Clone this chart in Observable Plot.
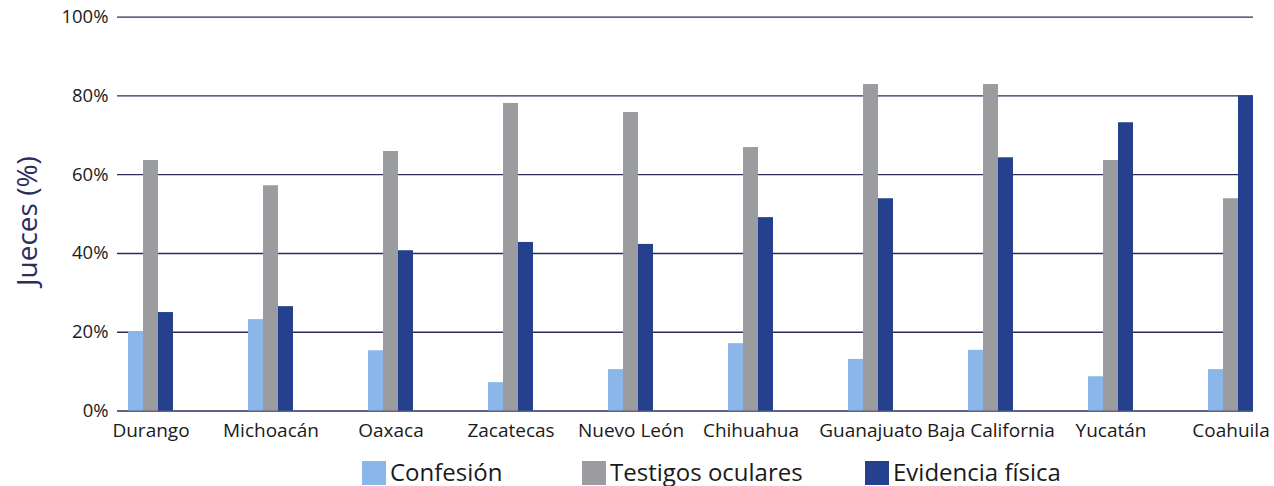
<!DOCTYPE html>
<html>
<head>
<meta charset="utf-8">
<script src="https://cdn.jsdelivr.net/npm/d3@7"></script>
<script src="https://cdn.jsdelivr.net/npm/@observablehq/plot@0.6"></script>
<style>
  html, body { margin: 0; padding: 0; background: #fff; }
  body { width: 1274px; height: 486px; overflow: hidden; font-family: "Open Sans", sans-serif; }
  #chart svg { display: block; }
  #legend { position: relative; height: 36px; }
  .item { position: absolute; top: 9px; display: flex; align-items: flex-start; font-size: 24px; color: #1a1a1a; line-height: 26px; }
  .sw { width: 24px; height: 24px; margin-right: 4px; margin-top: 2px; }
</style>
</head>
<body>
<div id="chart"></div>
<div id="legend"></div>
<script>
const states = ["Durango", "Michoacán", "Oaxaca", "Zacatecas", "Nuevo León", "Chihuahua", "Guanajuato", "Baja California", "Yucatán", "Coahuila"];
const series = ["Confesión", "Testigos oculares", "Evidencia física"];
const confesion = [20.2, 23.2, 15.3, 7.2, 10.5, 17.1, 13.1, 15.4, 8.7, 10.5];
const testigos = [63.6, 57.2, 65.9, 78.1, 75.8, 66.9, 82.9, 82.9, 63.6, 53.9];
const evidencia = [25.0, 26.5, 40.7, 42.8, 42.3, 49.1, 53.9, 64.3, 73.2, 80.0];
const yTicks = [0, 20, 40, 60, 80, 100];
const colors = ["#8ab6e9", "#9b9ca0", "#25418e"];
const yTitle = "Jueces (%)";

const values = [confesion, testigos, evidencia];
const rows = series.map((s, i) => states.map((st, j) => ({state: st, series: s, value: values[i][j]})));

const font = '"Open Sans", sans-serif';
const chart = Plot.plot({
  width: 1274,
  height: 450,
  marginLeft: 117,
  marginRight: 21,
  marginTop: 16.7,
  marginBottom: 39.5,
  style: {fontFamily: font, background: "#fff", color: "#1a1a1a"},
  x: {domain: states, range: [127.5, 1252.5], paddingInner: 0.625, paddingOuter: 0, label: null},
  y: {domain: [0, 100], label: null},
  marks: [
    Plot.ruleY(yTicks, {stroke: "#2b2d5a", strokeWidth: 1.3}),
    Plot.barY(rows[0], {x: "state", y: "value", fill: colors[0], insetRight: 30}),
    Plot.barY(rows[1], {x: "state", y: "value", fill: colors[1], insetLeft: 15, insetRight: 15}),
    Plot.barY(rows[2], {x: "state", y: "value", fill: colors[2], insetLeft: 30}),
    Plot.axisY({ticks: yTicks, tickSize: 0, tickPadding: 9, tickFormat: d => d + "%", fontSize: 18.5, label: null, fill: "#1a1a1a"}),
    Plot.axisX({tickSize: 0, tickPadding: 12, fontSize: 19, label: null, fill: "#1a1a1a"}),
    Plot.text([yTitle], {frameAnchor: "left", textAnchor: "middle", rotate: -90, dx: -89, dy: 7, fontSize: 28, letterSpacing: 2, fill: "#2a2d5e", text: d => d})
  ]
});
document.getElementById("chart").appendChild(chart);

const lefts = [362, 582, 865];
const legend = document.getElementById("legend");
series.forEach((s, i) => {
  const it = document.createElement("div");
  it.className = "item";
  it.style.left = lefts[i] + "px";
  const sw = document.createElement("div");
  sw.className = "sw";
  sw.style.background = colors[i];
  const t = document.createElement("span");
  t.textContent = s;
  it.appendChild(sw);
  it.appendChild(t);
  legend.appendChild(it);
});
</script>
</body>
</html>
